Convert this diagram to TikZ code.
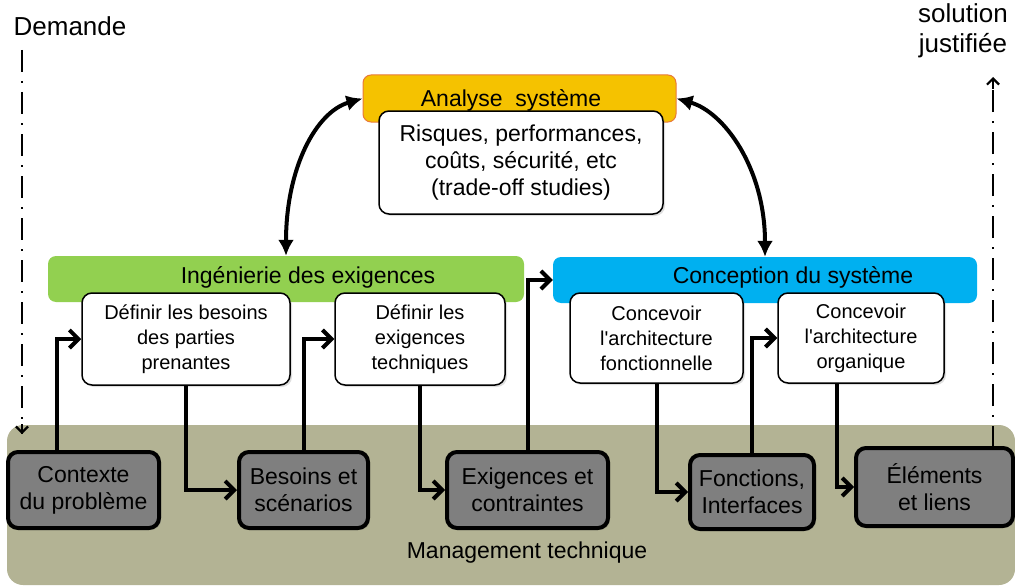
\documentclass[tikz,border=0pt]{standalone}
\usepackage{fontspec}
\setmainfont{Liberation Sans}
\usetikzlibrary{arrows.meta,shadows}
\definecolor{olive}{HTML}{B3B394}
\definecolor{hdrorange}{HTML}{F5C200}
\definecolor{hdrborder}{HTML}{E8793A}
\definecolor{green1}{HTML}{92D050}
\definecolor{blue1}{HTML}{00B0F0}
\definecolor{grey1}{HTML}{7F7F7F}
\tikzset{
  bigfont/.style={font=\fontsize{23}{27}\selectfont},
  smallfont/.style={font=\fontsize{20}{25}\selectfont},
  sidefont/.style={font=\fontsize{26}{30}\selectfont},
  bar/.style={draw=none, rounded corners=8pt, inner sep=0pt},
  whitebox/.style={draw=black, line width=1.5pt, fill=white, rounded corners=10pt, inner sep=0pt, align=center,
    drop shadow={opacity=0.25, shadow xshift=2pt, shadow yshift=-2pt}},
  greybox/.style={draw=black, line width=4pt, fill=grey1, rounded corners=10pt, inner sep=0pt, align=center, bigfont,
    drop shadow={opacity=0.3, shadow xshift=2pt, shadow yshift=-2pt}},
  flow/.style={line width=4pt, -{Straight Barb[length=9pt,width=18pt]}},
  dashdot/.style={line width=2.6pt, dash pattern=on 22pt off 9pt on 2pt off 9pt},
  smallhead/.style={line width=2.2pt, -{Straight Barb[length=6pt,width=12pt]}},
  twoway/.style={line width=4pt, {Latex[length=16pt,width=16pt]}-{Latex[length=16pt,width=16pt]}},
  plain/.style={inner sep=0pt, align=center}
}
\begin{document}
\begin{tikzpicture}[x=1pt,y=-1pt]
\useasboundingbox (0,0) rectangle (1015,586);
% management background
\node[bar, fill=olive, rounded corners=16pt, minimum width=1008, minimum height=160] (mgmt) at (511,505) {};
\node[plain, bigfont] (mgmtlbl) at (527,553) {Management technique};
% analyse systeme
\node[bar, fill=hdrorange, draw=hdrborder, line width=1pt, minimum width=313, minimum height=47] (hdr) at (519.5,98.5) {};
\node[plain, bigfont] (hdrlbl) at (511,100) {Analyse\ \ système};
\node[whitebox, bigfont, minimum width=284, minimum height=103] (risk) at (521,162.5) {Risques, performances,\\coûts, sécurité, etc\\(trade-off studies)};
% ingenierie
\node[bar, fill=green1, minimum width=476, minimum height=46] (green) at (286,279) {};
\node[plain, bigfont] (greenlbl) at (308,277) {Ingénierie des exigences};
\node[whitebox, smallfont, minimum width=208, minimum height=92] (db) at (186,339) {Définir les besoins\\des parties\\prenantes};
\node[whitebox, smallfont, minimum width=170, minimum height=92] (de) at (420,339) {Définir les\\exigences\\techniques};
% conception
\node[bar, fill=blue1, minimum width=424, minimum height=46] (blue) at (765,280) {};
\node[plain, bigfont] (bluelbl) at (793,277) {Conception du système};
\node[whitebox, smallfont, minimum width=173, minimum height=90] (cf) at (656.5,338) {Concevoir\\l\textquotesingle architecture\\fonctionnelle};
\node[whitebox, smallfont, minimum width=166, minimum height=90] (co) at (861,338) {Concevoir\\l\textquotesingle architecture\\organique};
% grey boxes
\node[greybox, minimum width=151, minimum height=76] (ctx) at (83.5,490) {Contexte\\du problème};
\node[greybox, minimum width=129, minimum height=76] (bs) at (303.5,490) {Besoins et\\scénarios};
\node[greybox, minimum width=161, minimum height=76] (ex) at (527.5,490) {Exigences et\\contraintes};
\node[greybox, minimum width=124, minimum height=74] (fi) at (752,492) {Fonctions,\\Interfaces};
\node[greybox, minimum width=157, minimum height=78] (el) at (934.5,487) {Éléments\\et liens};
% flows
\draw[flow] ([xshift=-26.5pt]ctx.north) |- (db.west);
\draw[flow] (db.south) |- (bs.west);
\draw[flow] (bs.north) |- (de.west);
\draw[flow] (de.south) |- (ex.west);
\draw[flow] (ex.north) |- (blue.west);
\draw[flow] (cf.south) |- (fi.west);
\draw[flow] (fi.north) |- (co.west);
\draw[flow] ([xshift=-24pt]co.south) |- (el.west);
% two-way curved arrows
\draw[twoway] (green.north) .. controls (286,168) and (316,112) .. (hdr.west);
\draw[twoway] (hdr.east) .. controls (724,112) and (765,168) .. (blue.north);
% demande / solution
\node[plain, sidefont] (dem) at (70,26) {Demande};
\coordinate (dtop) at (22,50);
\coordinate (dbot) at (22,434);
\draw[dashdot] (dtop) -- (dbot);
\draw[smallhead] ([yshift=10pt]dbot) -- (dbot);
\node[plain, sidefont] (sol) at (963,31) {solution\\justifiée};
\coordinate (stop) at (993,77);
\coordinate (sbot) at (993,448);
\draw[dashdot] (sbot) -- (stop);
\draw[smallhead] ([yshift=-12pt]stop) -- (stop);
\end{tikzpicture}
\end{document}
